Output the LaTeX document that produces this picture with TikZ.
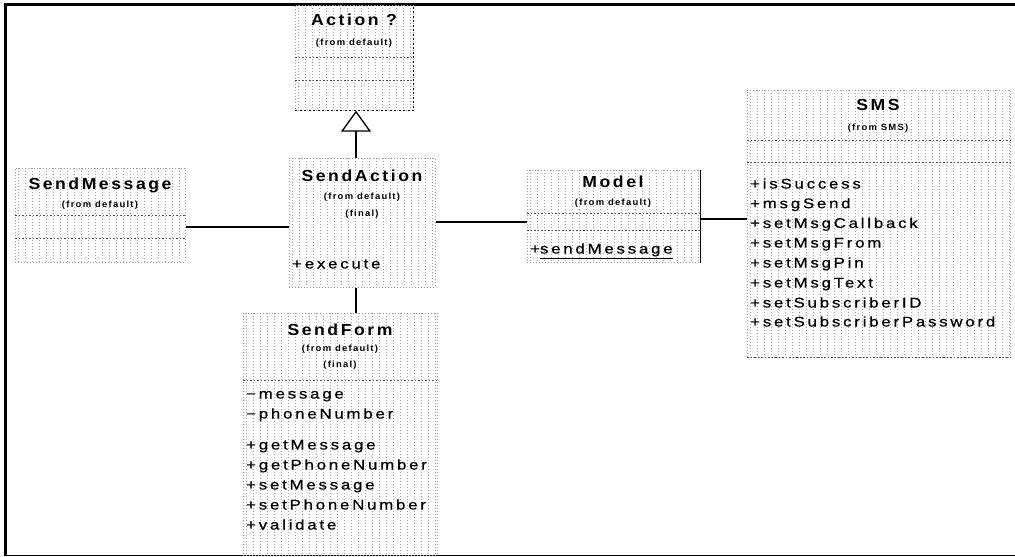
\documentclass[tikz,border=0pt]{standalone}
\usepackage{fontspec}
\setmainfont{Liberation Sans}
\newfontfamily\titlefont[LetterSpace=16,FakeStretch=1.1]{Liberation Sans}
\newfontfamily\fromfont[LetterSpace=14,FakeStretch=1.05]{Liberation Sans}
\newfontfamily\memfont[LetterSpace=20,FakeStretch=1.2,FakeBold=0.6]{Liberation Sans}
\usetikzlibrary{arrows.meta}
\tikzset{
  umlbox/.style={draw=black!40, dash pattern=on 1pt off 2pt, line width=0.7pt, anchor=north west, inner sep=0pt,
    path picture={\foreach \k in {0,...,40}{\draw[black!38, line width=0.8pt, dash pattern=on 0.8pt off 2.2pt]
      ([xshift=\k*7pt+3pt]path picture bounding box.north west) -- ([xshift=\k*7pt+3pt]path picture bounding box.south west);}}},
  ttl/.style={font=\titlefont\bfseries\fontsize{16}{18}\selectfont, inner sep=0pt},
  from/.style={font=\fromfont\bfseries\fontsize{9}{10}\selectfont, inner sep=0pt},
  mem/.style={font=\memfont\fontsize{14}{16}\selectfont, inner sep=0pt, anchor=west, text height=10pt, text depth=3pt},
  sep/.style={black!70, line width=0.8pt, dash pattern=on 1.5pt off 2pt},
  conn/.style={black, line width=1.3pt},
  frame/.style={black, line width=2.5pt}
}
\begin{document}
\begin{tikzpicture}[x=1pt,y=-1pt]
\useasboundingbox (0,0) rectangle (1015,557);
% frame
\coordinate (f1) at (1015,4.5);
\coordinate (f2) at (5.5,4.5);
\coordinate (f3) at (5.5,555.5);
\coordinate (f4) at (1015,555.5);
\draw[frame] (f1) -- (f2) -- (f3);
\draw[black, line width=1.6pt] (f3) -- (f4);
% boxes
\node[umlbox, minimum width=118pt, minimum height=105pt] (act) at (295,5) {};
\node[umlbox, minimum width=146pt, minimum height=129pt] (sa) at (289,158) {};
\node[umlbox, minimum width=170pt, minimum height=94pt] (sm) at (15,168) {};
\node[umlbox, minimum width=173pt, minimum height=92pt] (mod) at (527,170) {};
\node[umlbox, minimum width=263pt, minimum height=267pt] (sms) at (747,90) {};
\node[umlbox, minimum width=194pt, minimum height=242pt] (sf) at (243,313) {};
% separators
\draw[sep] (act.west |- 0,57) -- (act.east |- 0,57);
\draw[sep] (act.west |- 0,80) -- (act.east |- 0,80);
\draw[black, line width=1.2pt, dash pattern=on 2pt off 2.5pt] (act.south west) -- (act.south east) -- (act.north east);
\draw[sep] (sm.west |- 0,215) -- (sm.east |- 0,215);
\draw[sep] (sm.west |- 0,238) -- (sm.east |- 0,238);
\draw[sep] (mod.west |- 0,213) -- (mod.east |- 0,213);
\draw[sep] (mod.west |- 0,230) -- (mod.east |- 0,230);
\draw[black, line width=1.3pt] (mod.north east) -- (mod.south east);
\draw[sep] (sms.west |- 0,140) -- (sms.east |- 0,140);
\draw[sep] (sms.west |- 0,162) -- (sms.east |- 0,162);
\draw[sep] (sms.south west) -- (sms.south east);
\draw[sep] (sf.west |- 0,380) -- (sf.east |- 0,380);
% titles
\node[ttl] (t1) at (354,20) {Action ?};
\node[from] (f1t) at (354,43) {(from default)};
\node[ttl] (t2) at (362,176) {SendAction};
\node[from] (f2t) at (362,197) {(from default)};
\node[from] (fin1) at (362,214) {(final)};
\node[mem] (m1) at (292,265) {+execute};
\node[ttl] (t3) at (100,185) {SendMessage};
\node[from] (f3t) at (100,205) {(from default)};
\node[ttl] (t4) at (613,182) {Model};
\node[from] (f4t) at (613,203) {(from default)};
\node[mem] (m2) at (530,250) {+\underline{sendMessage}};
\node[ttl] (t5) at (878,105) {SMS};
\node[from] (f5t) at (878,128) {(from SMS)};
\node[mem] at (750,185) {+isSuccess};
\node[mem] at (750,204.7) {+msgSend};
\node[mem] at (750,224.4) {+setMsgCallback};
\node[mem] at (750,244.1) {+setMsgFrom};
\node[mem] at (750,264) {+setMsgPin};
\node[mem] at (750,284) {+setMsgText};
\node[mem] at (750,304) {+setSubscriberID};
\node[mem] at (750,323) {+setSubscriberPassword};
\node[ttl] (t6) at (340,330) {SendForm};
\node[from] (f6t) at (340,349) {(from default)};
\node[from] (fin2) at (340,365) {(final)};
\node[mem] at (246,395) {−message};
\node[mem] at (246,415) {−phoneNumber};
\node[mem] at (246,446) {+getMessage};
\node[mem] at (246,466) {+getPhoneNumber};
\node[mem] at (246,486) {+setMessage};
\node[mem] at (246,506) {+setPhoneNumber};
\node[mem] at (246,526) {+validate};
% connectors
\coordinate (cx) at (356,0);
\coordinate (y1) at (0,227);
\coordinate (y2) at (0,222);
\coordinate (y3) at (0,219);
\draw[conn, -{Triangle[open, width=30pt, length=21pt, line width=1.3pt]}] (sa.north -| cx) -- (act.south -| cx);
\draw[conn] (sa.south -| cx) -- (sf.north -| cx);
\draw[conn] (sm.east |- y1) -- (sa.west |- y1);
\draw[conn] (sa.east |- y2) -- (mod.west |- y2);
\draw[conn] (mod.east |- y3) -- (sms.west |- y3);
\end{tikzpicture}
\end{document}
